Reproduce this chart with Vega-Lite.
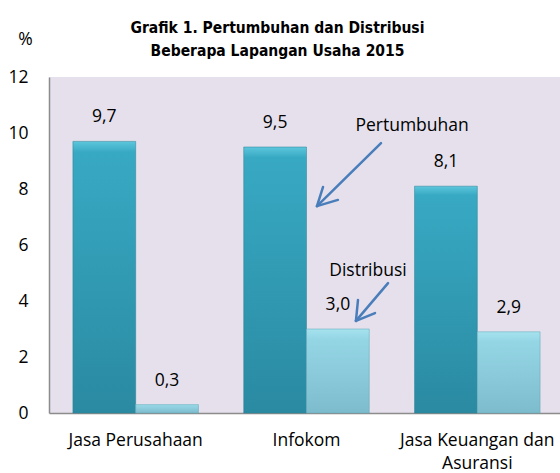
{
  "$schema": "https://vega.github.io/schema/vega-lite/v6.json",
  "autosize": {"type": "none"},
  "width": 511,
  "height": 336,
  "padding": {"left": 49, "top": 77, "right": 0, "bottom": 60},
  "background": "white",
  "view": {"fill": "#e5e0ec", "stroke": null},
  "title": {
    "text": ["Grafik 1. Pertumbuhan dan Distribusi", "Beberapa Lapangan Usaha 2015"],
    "font": "Liberation Sans Narrow, DejaVu Sans Condensed, sans-serif",
    "fontSize": 15.5,
    "fontWeight": "bold",
    "color": "black",
    "anchor": "middle",
    "frame": "group",
    "dx": -27,
    "dy": 51,
    "offset": 22,
    "lineHeight": 23
  },
  "datasets": {
    "bars": [
      {"kategori": "Jasa Perusahaan", "seri": "Pertumbuhan", "nilai": 9.7, "label": "9,7"},
      {"kategori": "Jasa Perusahaan", "seri": "Distribusi", "nilai": 0.3, "label": "0,3"},
      {"kategori": "Infokom", "seri": "Pertumbuhan", "nilai": 9.5, "label": "9,5"},
      {"kategori": "Infokom", "seri": "Distribusi", "nilai": 3.0, "label": "3,0"},
      {"kategori": "Jasa Keuangan dan Asuransi", "seri": "Pertumbuhan", "nilai": 8.1, "label": "8,1"},
      {"kategori": "Jasa Keuangan dan Asuransi", "seri": "Distribusi", "nilai": 2.9, "label": "2,9"}
    ],
    "arrows": [
      {"x": 1.934, "y": 9.64, "x2": 1.561, "y2": 7.39},
      {"x": 1.561, "y": 7.39, "x2": 1.596, "y2": 8.07},
      {"x": 1.561, "y": 7.39, "x2": 1.683, "y2": 7.61},
      {"x": 1.975, "y": 4.64, "x2": 1.788, "y2": 3.29},
      {"x": 1.788, "y": 3.29, "x2": 1.80, "y2": 4.04},
      {"x": 1.788, "y": 3.29, "x2": 1.899, "y2": 3.57}
    ],
    "notes": [
      {"x": 2.115, "y": 10.25, "teks": "Pertumbuhan"},
      {"x": 1.858, "y": 5.07, "teks": "Distribusi"}
    ]
  },
  "resolve": {"scale": {"x": "independent"}, "axis": {"x": "independent"}},
  "layer": [
    {
      "data": {"name": "bars"},
      "layer": [
        {
          "transform": [{"filter": "datum.seri == 'Pertumbuhan'"}],
          "mark": {
            "type": "bar",
            "stroke": "#2a7f93",
            "strokeOpacity": 0.5,
            "strokeWidth": 1,
            "color": {
              "gradient": "linear", "x1": 0, "x2": 0, "y1": 0, "y2": 1,
              "stops": [
                {"offset": 0, "color": "#5cc6dc"},
                {"offset": 0.04, "color": "#38a9c3"},
                {"offset": 1, "color": "#2a8aa2"}
              ]
            }
          }
        },
        {
          "transform": [{"filter": "datum.seri == 'Distribusi'"}],
          "mark": {
            "type": "bar",
            "stroke": "#5fa7b8",
            "strokeOpacity": 0.5,
            "strokeWidth": 1,
            "color": {
              "gradient": "linear", "x1": 0, "x2": 0, "y1": 0, "y2": 1,
              "stops": [
                {"offset": 0, "color": "#a6e2ee"},
                {"offset": 0.12, "color": "#95d6e5"},
                {"offset": 1, "color": "#7dbccd"}
              ]
            }
          }
        },
        {
          "mark": {"type": "text", "baseline": "middle", "align": "center", "dy": -24, "fontSize": 17.5, "font": "Open Sans", "color": "black"},
          "encoding": {"text": {"field": "label"}}
        }
      ],
      "encoding": {
        "x": {
          "field": "kategori",
          "type": "nominal",
          "sort": ["Jasa Perusahaan", "Infokom", "Jasa Keuangan dan Asuransi"],
          "scale": {"range": [0, 515], "paddingInner": 0.265, "paddingOuter": 0.14},
          "axis": {
            "title": null,
            "labelAngle": 0,
            "ticks": false,
            "labelPadding": 18,
            "labelFontSize": 17.5,
            "labelFont": "Open Sans",
            "labelColor": "black",
            "domainColor": "#8c8c8c",
            "domainWidth": 1.5,
            "labelLimit": 400,
            "labelLineHeight": 23,
            "labelExpr": "datum.label == 'Jasa Keuangan dan Asuransi' ? ['Jasa Keuangan dan', 'Asuransi'] : datum.label"
          }
        },
        "xOffset": {
          "field": "seri",
          "type": "nominal",
          "sort": ["Pertumbuhan", "Distribusi"],
          "scale": {"domain": ["Pertumbuhan", "Distribusi"], "paddingInner": 0, "paddingOuter": 0}
        },
        "y": {
          "field": "nilai",
          "type": "quantitative",
          "scale": {"domain": [0, 12], "nice": false},
          "axis": {
            "values": [0, 2, 4, 6, 8, 10, 12],
            "grid": false,
            "ticks": false,
            "labelPadding": 21,
            "labelFontSize": 17.5,
            "labelFont": "Open Sans",
            "labelColor": "black",
            "domainColor": "#8c8c8c",
            "domainWidth": 1.5,
            "title": "%",
            "titleAngle": 0,
            "titleX": -24,
            "titleY": -38,
            "titleAlign": "center",
            "titleBaseline": "middle",
            "titleFontSize": 17.5,
            "titleFont": "Open Sans",
            "titleFontWeight": "normal",
            "titleColor": "black"
          }
        }
      }
    },
    {
      "data": {"name": "arrows"},
      "mark": {"type": "rule", "color": "#4a7ebb", "strokeWidth": 2.5, "strokeCap": "round"},
      "encoding": {
        "x": {"field": "x", "type": "quantitative", "scale": {"domain": [0, 3], "range": [0, 515], "nice": false, "zero": false}, "axis": null},
        "x2": {"field": "x2"},
        "y": {"field": "y", "type": "quantitative"},
        "y2": {"field": "y2"}
      }
    },
    {
      "data": {"name": "notes"},
      "mark": {"type": "text", "fontSize": 17.5, "font": "Open Sans", "color": "black", "align": "center", "baseline": "middle"},
      "encoding": {
        "x": {"field": "x", "type": "quantitative", "scale": {"domain": [0, 3], "range": [0, 515], "nice": false, "zero": false}, "axis": null},
        "y": {"field": "y", "type": "quantitative"},
        "text": {"field": "teks"}
      }
    }
  ]
}
